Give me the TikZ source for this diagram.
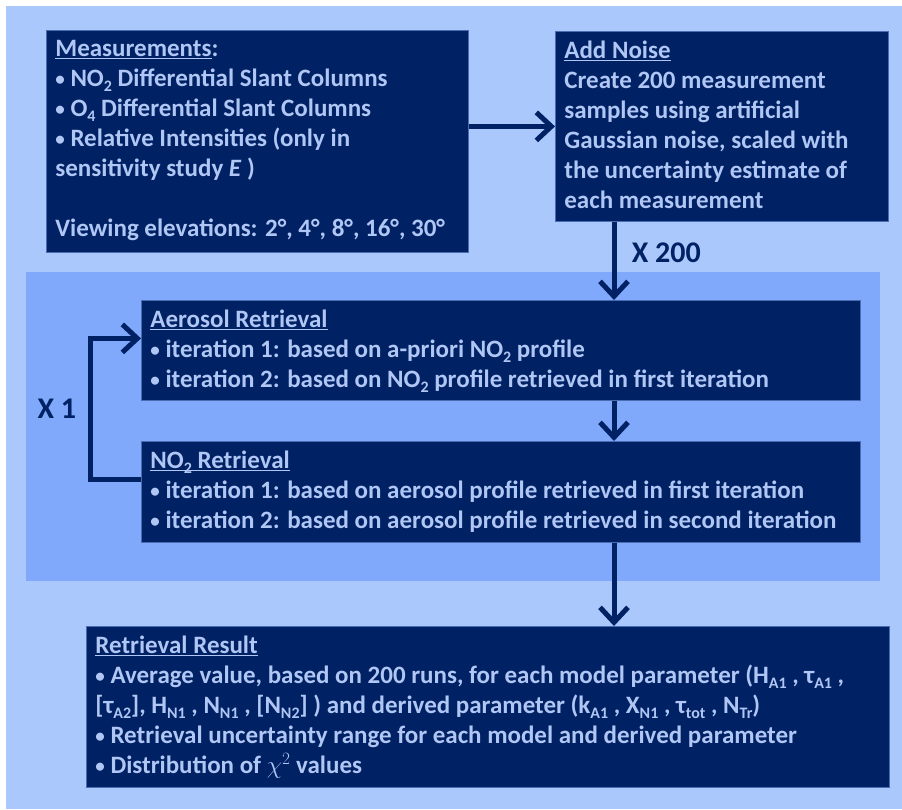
\documentclass[tikz,border=0pt]{standalone}
\usepackage{fontspec}
\setmainfont{Carlito}
\usepackage{tikz}
\usetikzlibrary{arrows.meta}

\definecolor{pagebg}{HTML}{ABC8FD}
\definecolor{loopbg}{HTML}{80A9FC}
\definecolor{boxfill}{HTML}{002163}
\definecolor{boxline}{HTML}{4A6CB0}
\definecolor{boxtext}{HTML}{B0C6F4}
\definecolor{arrowc}{HTML}{002163}

% small list bullet and low subscripts
\newcommand{\bul}{{\fontsize{19}{19}\selectfont\raisebox{1pt}{•}}\ }
\newcommand{\low}[1]{\raisebox{-4.5pt}{\fontsize{16}{16}\selectfont #1}}

\begin{document}
\begin{tikzpicture}[x=1pt, y=-1pt,
  stage/.style={fill=boxfill, draw=boxline, line width=0.8pt, text=boxtext,
    anchor=north west, inner xsep=9pt, inner ysep=10pt,
    font=\fontsize{25}{30}\selectfont\bfseries},
  flow/.style={draw=arrowc, line width=5pt, -{Straight Barb[length=15pt, width=28pt]}},
  count/.style={text=arrowc, font=\fontsize{30}{34}\selectfont\bfseries}]
\useasboundingbox (0,0) rectangle (902,809);
\fill[white] (0,0) rectangle (902,809);
\fill[pagebg] (6,6) rectangle (902,809);
% iteration band
\fill[loopbg] (26,272) rectangle (880,581);

\node [stage] (meas) at (46,30) {\parbox[t][202pt][t]{404pt}{\raggedright
  \underline{Measurements}:\\
  \bul NO\low{2} Differential Slant Columns\\
  \bul O\low{4} Differential Slant Columns\\
  \bul Relative Intensities (only in\\
  sensitivity study \textit{E} )\\
  \mbox{}\\
  Viewing elevations: 2°, 4°, 8°, 16°, 30°}};
\node [stage] (noise) at (555,31) {\parbox[t][170pt][t]{315pt}{\raggedright
  \underline{Add Noise}\\
  Create 200 measurement\\
  samples using artificial\\
  Gaussian noise, scaled with\\
  the uncertainty estimate of\\
  each measurement}};
\node [stage] (aerosol) at (141,300) {\parbox[t][80pt][t]{701pt}{\raggedright
  \underline{Aerosol Retrieval}\\
  \bul iteration 1: based on a-priori NO\low{2} profile\\
  \bul iteration 2: based on NO\low{2} profile retrieved in first iteration}};
\node [stage] (no2ret) at (141,441) {\parbox[t][81pt][t]{701pt}{\raggedright
  \underline{\smash{NO\low{2}} Retrieval}\\
  \bul iteration 1: based on aerosol profile retrieved in first iteration\\
  \bul iteration 2: based on aerosol profile retrieved in second iteration}};
\node [stage] (result) at (86,626) {\parbox[t][141pt][t]{785pt}{\raggedright
  \underline{Retrieval Result}\\
  \bul Average value, based on 200 runs, for each model parameter (H\low{A1} , τ\low{A1} ,\\{}
  [τ\low{A2}], H\low{N1} , N\low{N1} , [N\low{N2}] ) and derived parameter (k\low{A1} , X\low{N1} , τ\low{tot} , N\low{Tr})\\
  \bul Retrieval uncertainty range for each model and derived parameter\\
  \bul Distribution of $\chi^{2}$ values}};

% main flow
\coordinate (spine) at (614,0);
\draw [flow] (meas.east |- noise.west) -- (noise.west);
\draw [flow] (noise.south -| spine) -- node[count, anchor=west, pos=0.4, xshift=12pt] (times200) {X 200} (aerosol.north -| spine);
\draw [flow] (aerosol.south -| spine) -- (no2ret.north -| spine);
\draw [flow] (no2ret.south -| spine) -- (result.north -| spine);

% loop back
\draw [flow] ([yshift=12pt]no2ret.west) -- ++(-51,0) |- node[count, pos=0.25, left=8pt] (times1) {X 1} ([yshift=12pt]aerosol.west);
\end{tikzpicture}
\end{document}
